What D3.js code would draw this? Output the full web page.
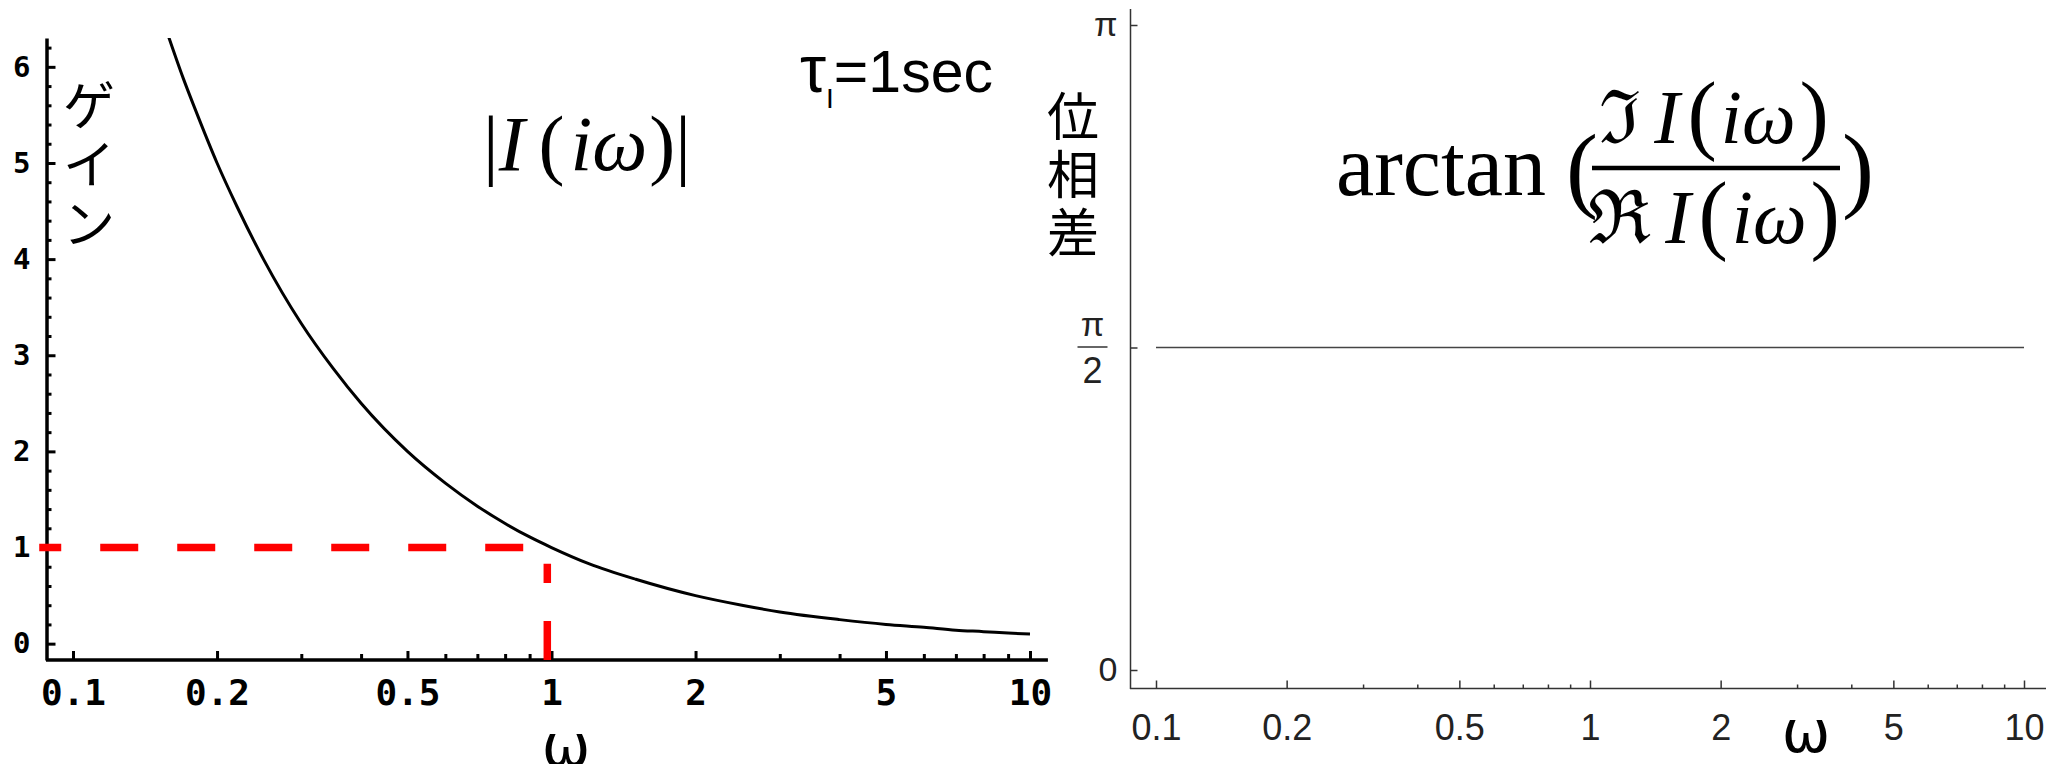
<!DOCTYPE html>
<html>
<head>
<meta charset="utf-8">
<title>ゲイン・位相差</title>
<style>
	body { margin: 0; background: #fff; }
	.lbl-mono { font-family: "DejaVu Sans Mono", monospace; font-weight: bold; }
	.lbl-thin { font-family: "Liberation Sans Narrow", "Liberation Sans", sans-serif; fill: #222; }
	.serif { font-family: "Liberation Serif", "DejaVu Serif", serif; }
	.jp { font-family: "Noto Sans CJK JP", sans-serif; }
</style>
</head>
<body>
<script src="https://d3js.org/d3.v7.min.js"></script>
<script>
// tick values (omega is on a log axis)
var omegaMajor = [0.1, 0.2, 0.5, 1, 2, 5, 10];
var omegaMinor = [0.3, 0.4, 0.6, 0.7, 0.8, 0.9, 3, 4, 6, 7, 8, 9];
var gainMajor = [0, 1, 2, 3, 4, 5, 6];

// gain |I(iw)|
var omega = [0.158, 0.17, 0.18, 0.2, 0.22, 0.25, 0.3, 0.35, 0.4, 0.5, 0.6, 0.7, 0.8, 0.9, 1,
             1.2, 1.5, 2, 2.5, 3, 4, 5, 6, 7, 8, 9, 10];
var gain = [6.33, 5.88, 5.56, 5.0, 4.55, 4.0, 3.33, 2.86, 2.5, 2.0, 1.67, 1.43, 1.25, 1.11, 1.0,
            0.83, 0.67, 0.5, 0.4, 0.33, 0.25, 0.2, 0.17, 0.14, 0.125, 0.11, 0.1];

// red guide dashes at w = 1, gain = 1
var guideH = {omega: [0.085, 0.98], gain: [1, 1]};
var guideV = {omega: [0.98, 0.98], gain: [-0.17, 0.83]};

// phase difference (flat at pi/2)
var phaseOmega = [0.1, 1, 10];
var phase = [1.5708, 1.5708, 1.5708];
var phaseTicks = [0, Math.PI / 2, Math.PI];

var svg = d3.select("body").append("svg")
	.attr("width", 2046)
	.attr("height", 764);

// ---------- left panel: gain ----------
var x1 = d3.scaleLog().domain([0.1, 10]).range([73, 1030]);
var y1 = d3.scaleLinear().domain([-0.17, 6.3]).range([660, 38]);
var left = svg.append("g");

svg.append("clipPath").attr("id", "clipL")
	.append("rect").attr("x", 46).attr("y", 38).attr("width", 1002).attr("height", 622);

// major y ticks
var gy = left.append("g")
	.attr("transform", "translate(46.5,0)")
	.call(d3.axisLeft(y1).tickValues(gainMajor).tickSizeInner(-9).tickSizeOuter(0).tickPadding(16).tickFormat(d3.format("d")));
gy.select(".domain").attr("stroke", "#000").attr("stroke-width", 3.5);
gy.selectAll(".tick line").attr("stroke", "#000").attr("stroke-width", 3);
gy.selectAll("text").attr("class", "lbl-mono").style("font-size", "29px").attr("fill", "#000");

// minor y ticks
var gainMinor = d3.range(1, 32).map(function(i) { return i * 0.2; }).filter(function(v) { return Math.abs(v - Math.round(v)) > 0.01; });
var gym = left.append("g")
	.attr("transform", "translate(46.5,0)")
	.call(d3.axisLeft(y1).tickValues(gainMinor).tickSizeInner(-5).tickSizeOuter(0).tickFormat(""));
gym.select(".domain").remove();
gym.selectAll(".tick line").attr("stroke", "#000").attr("stroke-width", 3);

// x axis line + ticks
left.append("line")
	.attr("x1", 46).attr("x2", x1(10.9))
	.attr("y1", 660).attr("y2", 660)
	.attr("stroke", "#000").attr("stroke-width", 3.5);
var gx = left.append("g")
	.attr("transform", "translate(0,660)")
	.call(d3.axisBottom(x1).tickValues(omegaMajor).tickSizeInner(-9).tickSizeOuter(0).tickPadding(19).tickFormat(function(d) { return d; }));
gx.select(".domain").remove();
gx.selectAll(".tick line").attr("stroke", "#000").attr("stroke-width", 3);
gx.selectAll("text").attr("class", "lbl-mono").style("font-size", "36px").attr("fill", "#000");
var gxm = left.append("g")
	.attr("transform", "translate(0,660)")
	.call(d3.axisBottom(x1).tickValues(omegaMinor).tickSizeInner(-6).tickSizeOuter(0).tickFormat(""));
gxm.select(".domain").remove();
gxm.selectAll(".tick line").attr("stroke", "#000").attr("stroke-width", 3);

// red guides
var guideLine = d3.line()
	.x(function(d) { return x1(d[0]); })
	.y(function(d) { return y1(d[1]); });
left.append("path")
	.attr("d", guideLine(d3.zip(guideH.omega, guideH.gain)))
	.attr("stroke", "#ff0000").attr("stroke-width", 7.5).attr("fill", "none")
	.attr("stroke-dasharray", "38,39").attr("stroke-dashoffset", 16);
left.append("path")
	.attr("d", guideLine(d3.zip(guideV.omega, guideV.gain)))
	.attr("stroke", "#ff0000").attr("stroke-width", 7.5).attr("fill", "none")
	.attr("stroke-dasharray", "39,38");

// gain curve
left.append("path")
	.attr("clip-path", "url(#clipL)")
	.attr("d", d3.line().curve(d3.curveMonotoneX)
		.x(function(d) { return x1(d[0]); })
		.y(function(d) { return y1(d[1]); })(d3.zip(omega, gain)))
	.attr("fill", "none").attr("stroke", "#000").attr("stroke-width", 3);

// labels
["ゲ", "イ", "ン"].forEach(function(c, i) {
	left.append("text").attr("class", "jp")
		.attr("x", 89).attr("y", 106 + i * 59).attr("dy", "0.36em")
		.attr("text-anchor", "middle").style("font-size", "52px").text(c);
});
left.append("text").attr("class", "jp")
	.attr("x", 566).attr("y", 766).attr("text-anchor", "middle")
	.style("font-family", "'DejaVu Sans', sans-serif").style("font-size", "58px").text("ω");

var tau = left.append("text")
	.attr("x", 800).attr("y", 92)
	.style("font-family", "'Liberation Sans', Arial, sans-serif").style("font-size", "59px");
tau.append("tspan").style("font-size", "66px").text("τ");
tau.append("tspan").attr("dy", 16).style("font-size", "28px").text("I");
tau.append("tspan").attr("dy", -16).text("=1sec");

var f1 = left.append("text").attr("class", "serif")
	.attr("x", 483).attr("y", 170).style("font-size", "78px");
f1.append("tspan").text("|");
f1.append("tspan").style("font-style", "italic").text("I");
f1.append("tspan").attr("dx", 14).text("(");
f1.append("tspan").attr("dx", 6).style("font-style", "italic").text("iω");
f1.append("tspan").attr("dx", 2).text(")");
f1.append("tspan").text("|");

// ---------- right panel: phase ----------
var x2 = d3.scaleLog().domain([0.1, 10]).range([1156, 2024]);
var y2 = d3.scaleLinear().domain([0, Math.PI]).range([670, 25]);
var right = svg.append("g");

right.append("line")
	.attr("x1", 1130.5).attr("x2", 1130.5).attr("y1", 9).attr("y2", 689)
	.attr("stroke", "#333").attr("stroke-width", 1.5);
right.append("line")
	.attr("x1", 1130).attr("x2", 2046).attr("y1", 688.5).attr("y2", 688.5)
	.attr("stroke", "#333").attr("stroke-width", 1.5);

var ry = right.append("g")
	.attr("transform", "translate(1130.5,0)")
	.call(d3.axisLeft(y2).tickValues(phaseTicks).tickSizeInner(-7).tickSizeOuter(0).tickPadding(13)
		.tickFormat(function(d) { return d === 0 ? "0" : (d === Math.PI ? "π" : ""); }));
ry.select(".domain").remove();
ry.selectAll(".tick line").attr("stroke", "#333").attr("stroke-width", 1.5);
ry.selectAll("text").attr("class", "lbl-thin").style("font-size", "34px");
// pi/2 as a stacked fraction
ry.selectAll(".tick").filter(function(d) { return Math.abs(d - Math.PI / 2) < 1e-6; })
	.each(function() {
		var t = d3.select(this);
		t.append("text").attr("class", "lbl-thin").attr("x", -38).attr("y", -12)
			.attr("text-anchor", "middle").style("font-size", "34px").text("π");
		t.append("line").attr("x1", -53).attr("x2", -23).attr("y1", -1).attr("y2", -1)
			.attr("stroke", "#333").attr("stroke-width", 1.5);
		t.append("text").attr("class", "lbl-thin").attr("x", -38).attr("y", 35)
			.attr("text-anchor", "middle").style("font-size", "36px").text("2");
	});

var rx = right.append("g")
	.attr("transform", "translate(0,688.5)")
	.call(d3.axisBottom(x2).tickValues(omegaMajor).tickSizeInner(-8).tickSizeOuter(0).tickPadding(26).tickFormat(function(d) { return d; }));
rx.select(".domain").remove();
rx.selectAll(".tick line").attr("stroke", "#333").attr("stroke-width", 1.5);
rx.selectAll("text").attr("class", "lbl-thin").style("font-size", "36px");
var rxm = right.append("g")
	.attr("transform", "translate(0,688.5)")
	.call(d3.axisBottom(x2).tickValues(omegaMinor).tickSizeInner(-4).tickSizeOuter(0).tickFormat(""));
rxm.select(".domain").remove();
rxm.selectAll(".tick line").attr("stroke", "#333").attr("stroke-width", 1.5);

// phase line
right.append("path")
	.attr("d", d3.line()
		.x(function(d) { return x2(d[0]); })
		.y(function(d) { return y2(d[1]); })(d3.zip(phaseOmega, phase)))
	.attr("fill", "none").attr("stroke", "#444").attr("stroke-width", 1.5);

// labels
["位", "相", "差"].forEach(function(c, i) {
	right.append("text").attr("class", "jp")
		.attr("x", 1073).attr("y", 117 + i * 58).attr("dy", "0.36em")
		.attr("text-anchor", "middle").style("font-size", "52px").text(c);
});
right.append("text")
	.attr("x", 1806).attr("y", 752).attr("text-anchor", "middle")
	.style("font-family", "'DejaVu Sans', sans-serif").style("font-size", "58px").text("ω");

right.append("text").attr("class", "serif")
	.attr("x", 1336).attr("y", 195).style("font-size", "86px").text("arctan");
right.append("text").attr("class", "serif")
	.attr("x", 1566).attr("y", 200).style("font-size", "96px").text("(");
right.append("text").attr("class", "serif")
	.attr("x", 1842).attr("y", 200).style("font-size", "96px").text(")");
right.append("line")
	.attr("x1", 1592).attr("x2", 1840).attr("y1", 168).attr("y2", 168)
	.attr("stroke", "#000").attr("stroke-width", 4.5);

[{sym: "ℑ", y: 143}, {sym: "ℜ", y: 243}].forEach(function(p) {
	var t = right.append("text").attr("class", "serif")
		.attr("x", 1714).attr("y", p.y).attr("text-anchor", "middle").style("font-size", "76px");
	t.append("tspan").style("font-family", "'DejaVu Serif', serif").style("font-size", "74px").text(p.sym);
	t.append("tspan").attr("dx", 14).style("font-style", "italic").text("I");
	t.append("tspan").attr("dx", 8).style("font-size", "88px").text("(");
	t.append("tspan").attr("dx", 4).style("font-style", "italic").text("iω");
	t.append("tspan").attr("dx", 4).style("font-size", "88px").text(")");
});
</script>
</body>
</html>
